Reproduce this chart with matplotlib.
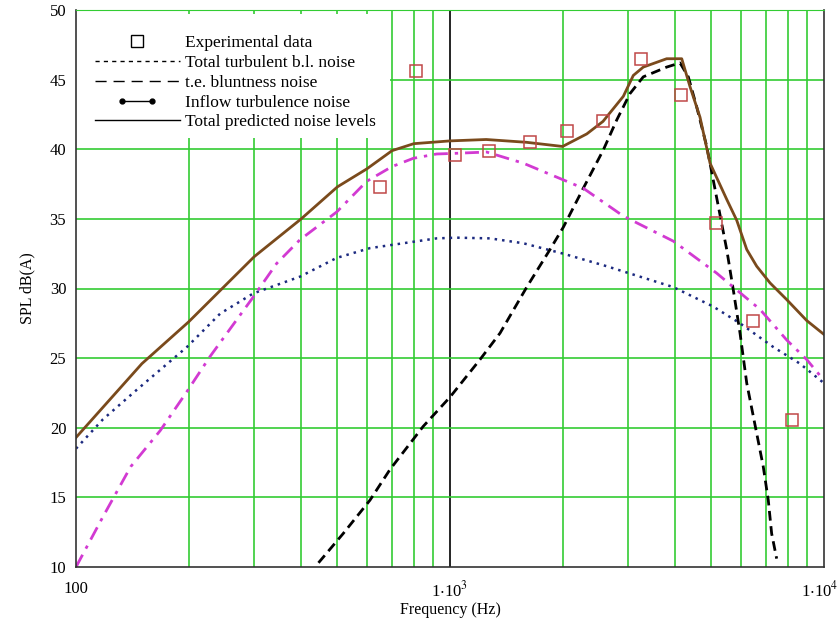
import numpy as np
import matplotlib
matplotlib.use("Agg")
import matplotlib.pyplot as plt
from matplotlib.lines import Line2D
from matplotlib.patches import Rectangle
from matplotlib.transforms import ScaledTranslation
from matplotlib.legend_handler import HandlerLine2D

plt.rcParams["font.family"] = "Liberation Serif"
plt.rcParams["mathtext.fontset"] = "stix"

# experimental data (1/3 octave bands)
exp_f = [650, 810, 1030, 1270, 1640, 2050, 2570, 3250, 4150, 5140, 6470, 8230]
exp_db = [37.3, 45.6, 39.6, 39.9, 40.5, 41.3, 42.0, 46.5, 43.9, 34.7, 27.7, 20.55]

# total turbulent boundary layer noise
bl_f = [100, 118, 145, 198, 243, 298, 397, 498, 611, 750, 921, 1042, 1279, 1570,
        2009, 2624, 3955, 5058, 5963, 7316, 8627, 10000]
bl_db = [18.5, 20.6, 22.7, 25.8, 28.2, 29.65, 30.85, 32.2, 32.9, 33.25, 33.6, 33.65,
         33.6, 33.25, 32.5, 31.6, 30.1, 28.7, 27.5, 25.8, 24.6, 23.2]

# trailing edge bluntness noise
te_f = [445, 518, 611, 691, 848, 1000, 1203, 1361, 1604, 1851, 2009, 2272, 2570, 2791,
        3029, 3287, 3796, 4121, 4337, 4566, 4858, 5218, 5494, 5721, 5963, 6215, 6607,
        6881, 7096, 7245, 7472]
te_db = [10.3, 12.4, 14.8, 17.0, 20.1, 22.2, 24.9, 26.8, 30.1, 32.8, 34.4, 37.2, 39.95,
         42.1, 44.0, 45.2, 45.9, 46.2, 45.2, 43.05, 40.2, 35.9, 32.8, 29.9, 26.8, 23.2,
         19.6, 17.2, 14.8, 12.4, 10.6]

# inflow turbulence noise
in_f = [100, 118, 140, 168, 198, 228, 298, 344, 397, 498, 599, 699, 798, 921, 1019,
        1253, 1570, 2009, 2272, 2907, 3955, 5166, 5721, 6744, 7950, 8989, 10000]
in_db = [10.0, 13.6, 17.2, 19.8, 22.6, 25.1, 29.4, 31.8, 33.5, 35.5, 37.7, 38.75, 39.35,
         39.66, 39.7, 39.8, 39.0, 37.8, 37.2, 35.2, 33.4, 31.1, 30.1, 28.5, 26.3, 24.9, 23.4]

# total predicted noise
tot_f = [100, 150, 200, 300, 400, 500, 600, 700, 800, 1000, 1250, 1600, 2000, 2321,
         2565, 2907, 3091, 3287, 3796, 4165, 4382, 4661, 4958, 5494, 5843, 6215, 6607,
         7173, 7950, 8989, 10000]
tot_db = [19.3, 24.6, 27.6, 32.3, 35.0, 37.3, 38.6, 39.9, 40.4, 40.6, 40.7, 40.5, 40.2,
          41.1, 42.0, 43.8, 45.3, 45.9, 46.5, 46.5, 44.5, 42.3, 39.0, 36.4, 34.9, 32.8,
          31.6, 30.4, 29.2, 27.7, 26.7]

fig = plt.figure(figsize=(8.4, 6.18), dpi=100)
ax = fig.add_axes([76 / 840, 1 - 567 / 618, 748 / 840, 557 / 618])

green = "#33cc33"
ax.set_xscale("log")
ax.set_xlim(100, 10000)
ax.set_ylim(10, 50)

# grid
for dec in [100, 1000]:
    for m in range(2, 10):
        ax.axvline(dec * m, color=green, lw=1.2, zorder=0)
ax.axvline(1000, color="black", lw=1.2, zorder=0)
for yv in [15, 20, 25, 30, 35, 40, 45, 50]:
    ax.axhline(yv, color=green, lw=1.2, zorder=0)

# white box behind the legend hides the grid
ax.add_patch(Rectangle((0, 0.770), 0.42, 0.223, transform=ax.transAxes,
                       facecolor="white", edgecolor="none", zorder=0.5))

ax.plot(bl_f, bl_db, color="#1c2a80", lw=1.8, ls=(0, (1, 2)))
ax.plot(te_f, te_db, color="black", lw=2.0, ls=(0, (3.5, 2)))
ax.plot(in_f, in_db, color="#d23ad2", lw=2.0, ls=(0, (5, 2.5, 1.2, 2.5)))
ax.plot(tot_f, tot_db, color="#7a4a1c", lw=2.0)
ax.plot(exp_f, exp_db, ls="none", marker="s", ms=8, mfc="none", mec="#c04848", mew=1.1)

ax.set_xticks([100, 1000, 10000])
ax.set_xticklabels(["100", r"1$\cdot$10$^{3}$", r"1$\cdot$10$^{4}$"])
ax.xaxis.set_minor_locator(matplotlib.ticker.NullLocator())
ax.set_yticks(range(10, 51, 5))
ax.tick_params(length=0, labelsize=12)
ax.tick_params(axis="x", pad=10)
ax.tick_params(axis="y", pad=7)
last = ax.get_xticklabels()[-1]
last.set_transform(last.get_transform() + ScaledTranslation(-4 / 100, 0, fig.dpi_scale_trans))
for s in ["left", "bottom", "right"]:
    ax.spines[s].set_color("#333333")
    ax.spines[s].set_linewidth(1.2)
ax.spines["top"].set_color(green)

ax.set_xlabel("Frequency (Hz)", fontsize=11.5)
ax.xaxis.set_label_coords(0.5, -0.062)
ax.set_ylabel("SPL dB(A)", fontsize=11.5)
ax.yaxis.set_label_coords(-0.054, 0.5)

handles = [
    Line2D([], [], ls="none", marker="s", ms=8, mfc="none", mec="black", mew=1.0),
    Line2D([], [], color="black", lw=1.0, ls=(0, (3, 3))),
    Line2D([], [], color="black", lw=1.0, ls=(0, (8, 5))),
    Line2D([], [], color="black", lw=1.0, marker="o", ms=3.5),
    Line2D([], [], color="black", lw=1.0),
]
labels = ["Experimental data", "Total turbulent b.l. noise", "t.e. bluntness noise",
          "Inflow turbulence noise", "Total predicted noise levels"]
leg = ax.legend(handles, labels, loc="upper left", bbox_to_anchor=(0.025, 0.955),
                fontsize=12.5, handlelength=4.9, handletextpad=0.3, labelspacing=0.21,
                borderpad=0, borderaxespad=0, frameon=False,
                handler_map={handles[3]: HandlerLine2D(numpoints=2, marker_pad=1.6)})

plt.savefig("out.png", dpi=100)
